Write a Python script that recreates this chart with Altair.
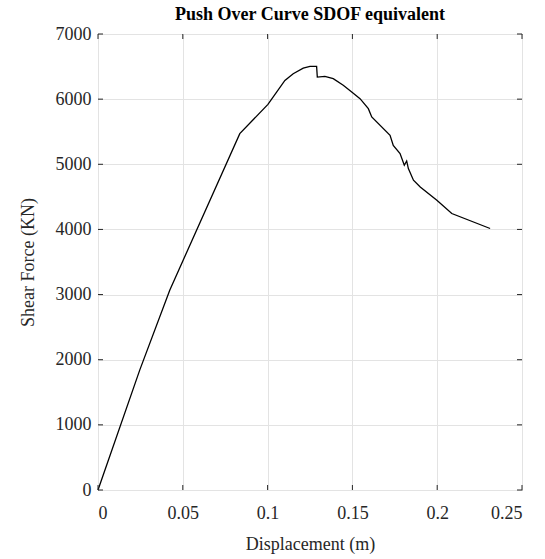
import altair as alt
import pandas as pd

disp = [0.0, 0.0246, 0.0423, 0.0836, 0.1002, 0.1102, 0.1151, 0.121, 0.125, 0.1289,
        0.1293, 0.1338, 0.1387, 0.1446, 0.1496, 0.1545, 0.1594, 0.1614, 0.1722,
        0.1741, 0.1781, 0.1806, 0.182, 0.183, 0.186, 0.19, 0.1998, 0.2086, 0.2312]
force = [0, 1840, 3067, 5470, 5920, 6288, 6390, 6477, 6503, 6503,
         6339, 6350, 6314, 6212, 6110, 6008, 5854, 5726, 5445,
         5291, 5164, 4985, 5051, 4934, 4755, 4652, 4448, 4244, 4014]
x_ticks = [0, 0.05, 0.1, 0.15, 0.2, 0.25]
y_ticks = [0, 1000, 2000, 3000, 4000, 5000, 6000, 7000]

W, H = 424, 456
FONT = "Liberation Serif"
AX = "#262626"

df = pd.DataFrame({"d": disp, "f": force, "i": list(range(len(disp)))})
xt = pd.DataFrame({"v": x_ticks})
yt = pd.DataFrame({"v": y_ticks})

xscale = alt.Scale(domain=[0, 0.25], nice=False, zero=False)
yscale = alt.Scale(domain=[0, 7000], nice=False, zero=False)

line = alt.Chart(df).mark_line(color="black", strokeWidth=1.3).encode(
    x=alt.X("d:Q", scale=xscale, title="Displacement (m)",
            axis=alt.Axis(values=x_ticks, format="~g", tickSize=0, labelPadding=14,
                          titlePadding=13)),
    y=alt.Y("f:Q", scale=yscale, title="Shear Force (KN)",
            axis=alt.Axis(values=y_ticks, format="d", tickSize=0, labelPadding=7,
                          titlePadding=18)),
    order="i:Q",
)

tick_len = 5
xb = alt.Chart(xt).mark_rule(color=AX, strokeWidth=1).encode(
    x=alt.X("v:Q", scale=xscale), y=alt.value(H), y2=alt.value(H - tick_len))
xtop = alt.Chart(xt).mark_rule(color=AX, strokeWidth=1).encode(
    x=alt.X("v:Q", scale=xscale), y=alt.value(0), y2=alt.value(tick_len))
yl = alt.Chart(yt).mark_rule(color=AX, strokeWidth=1).encode(
    y=alt.Y("v:Q", scale=yscale), x=alt.value(0), x2=alt.value(tick_len))
yr = alt.Chart(yt).mark_rule(color=AX, strokeWidth=1).encode(
    y=alt.Y("v:Q", scale=yscale), x=alt.value(W), x2=alt.value(W - tick_len))

chart = alt.layer(line, xb, xtop, yl, yr).properties(
    width=W, height=H,
    background="white",
    title=alt.Title("Push Over Curve SDOF equivalent", font=FONT, fontSize=18,
                    fontWeight="bold", color="black", offset=1),
    autosize=alt.AutoSizeParams(type="none"),
    padding={"left": 98, "top": 34, "right": 23, "bottom": 69},
).configure_view(stroke=AX, strokeWidth=1).configure_axis(
    labelFont=FONT, titleFont=FONT, labelFontSize=18, titleFontSize=18,
    labelColor=AX, titleColor=AX, titleFontWeight="normal",
    domain=False, gridColor="#e3e3e3", gridWidth=1,
)

chart.save("out.html", embed_options={"renderer": "svg", "actions": False})
